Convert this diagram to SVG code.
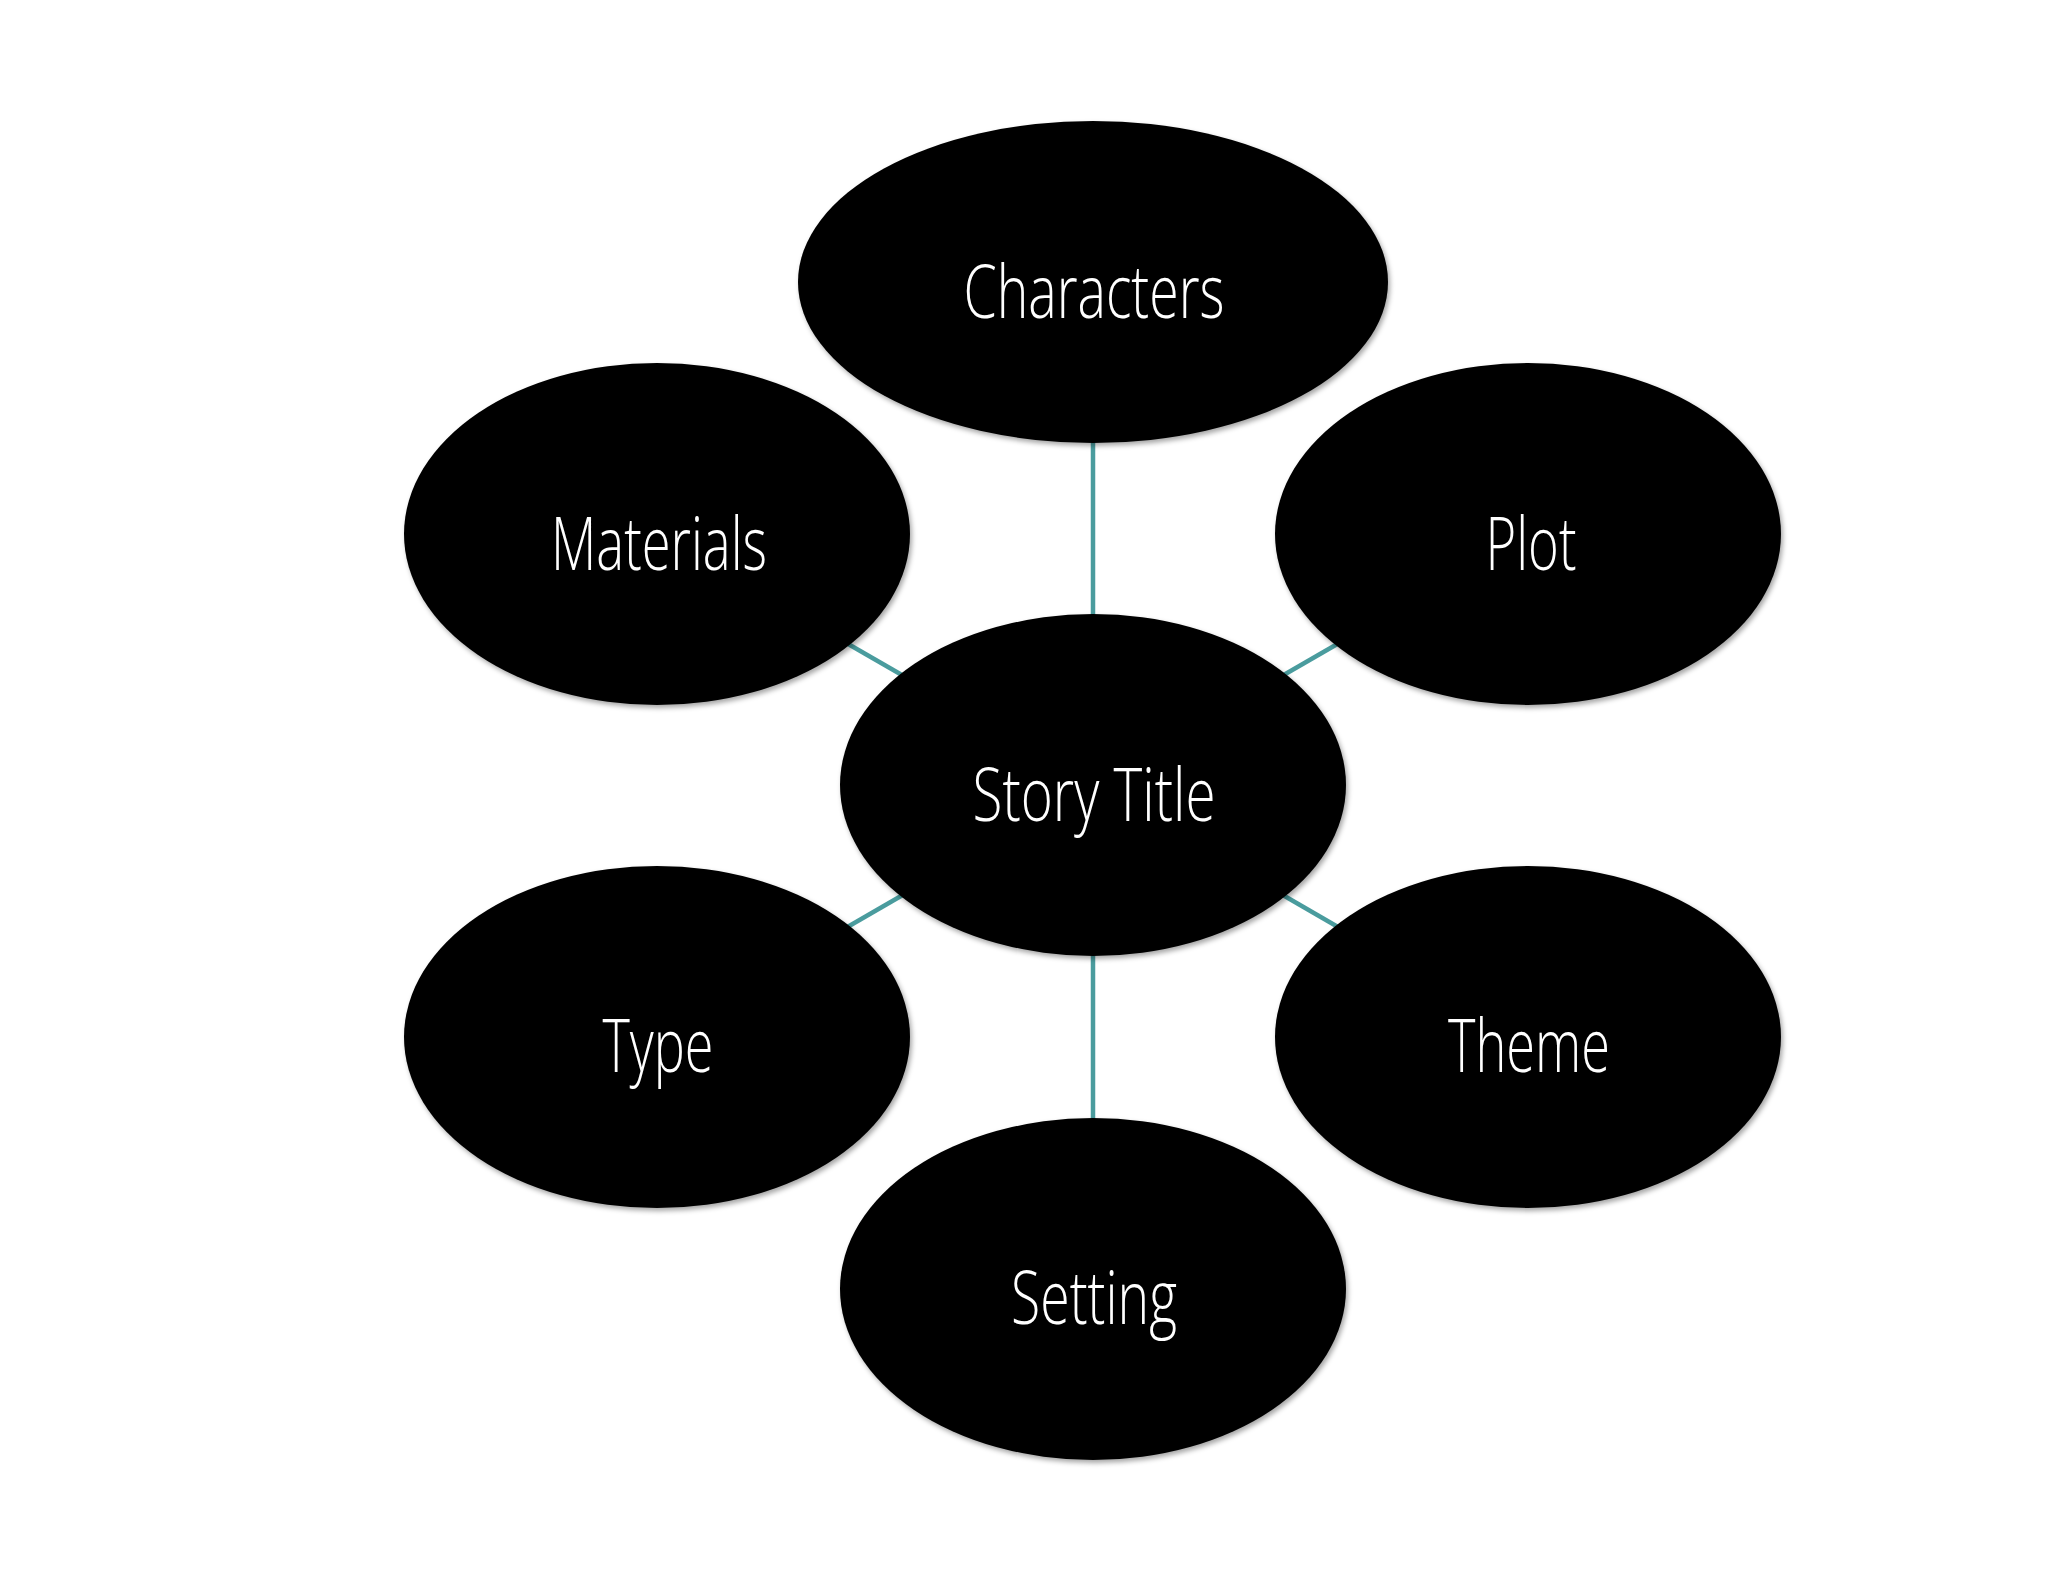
<svg xmlns="http://www.w3.org/2000/svg" width="2048" height="1582" viewBox="0 0 2048 1582">
<style>
.node ellipse{fill:#000000;filter:url(#sh);}
.node text{fill:#ffffff;font-family:"Open Sans","Liberation Sans",sans-serif;font-weight:300;font-size:74px;text-anchor:middle;}
.conn line{stroke:#4a9c9e;stroke-width:4.5;}
</style>
<defs>
<filter id="sh" x="-10%" y="-10%" width="120%" height="125%">
<feDropShadow dx="2" dy="3" stdDeviation="2.5" flood-color="#000" flood-opacity="0.35"/>
</filter>
</defs>
<rect width="2048" height="1582" fill="#ffffff"/>
<g id="connectors" class="conn">
<line x1="1093" y1="282" x2="1093" y2="785"/>
<line x1="657" y1="534" x2="1093" y2="785"/>
<line x1="1528" y1="534" x2="1093" y2="785"/>
<line x1="657" y1="1037" x2="1093" y2="785"/>
<line x1="1528" y1="1037" x2="1093" y2="785"/>
<line x1="1093" y1="1289" x2="1093" y2="785"/>
</g>
<g id="node-characters" class="node">
<ellipse cx="1093" cy="282" rx="295" ry="161"/>
<text x="1094" y="318" textLength="261" lengthAdjust="spacingAndGlyphs">Characters</text>
</g>
<g id="node-materials" class="node">
<ellipse cx="657" cy="534" rx="253" ry="171"/>
<text x="659" y="570" textLength="216" lengthAdjust="spacingAndGlyphs">Materials</text>
</g>
<g id="node-plot" class="node">
<ellipse cx="1528" cy="534" rx="253" ry="171"/>
<text x="1531" y="570" textLength="91" lengthAdjust="spacingAndGlyphs">Plot</text>
</g>
<g id="node-story-title" class="node">
<ellipse cx="1093" cy="785" rx="253" ry="171"/>
<text x="1094" y="821" textLength="243" lengthAdjust="spacingAndGlyphs">Story Title</text>
</g>
<g id="node-type" class="node">
<ellipse cx="657" cy="1037" rx="253" ry="171"/>
<text x="658" y="1072" textLength="111" lengthAdjust="spacingAndGlyphs">Type</text>
</g>
<g id="node-theme" class="node">
<ellipse cx="1528" cy="1037" rx="253" ry="171"/>
<text x="1529" y="1072" textLength="162" lengthAdjust="spacingAndGlyphs">Theme</text>
</g>
<g id="node-setting" class="node">
<ellipse cx="1093" cy="1289" rx="253" ry="171"/>
<text x="1094" y="1324" textLength="166" lengthAdjust="spacingAndGlyphs">Setting</text>
</g>
</svg>
